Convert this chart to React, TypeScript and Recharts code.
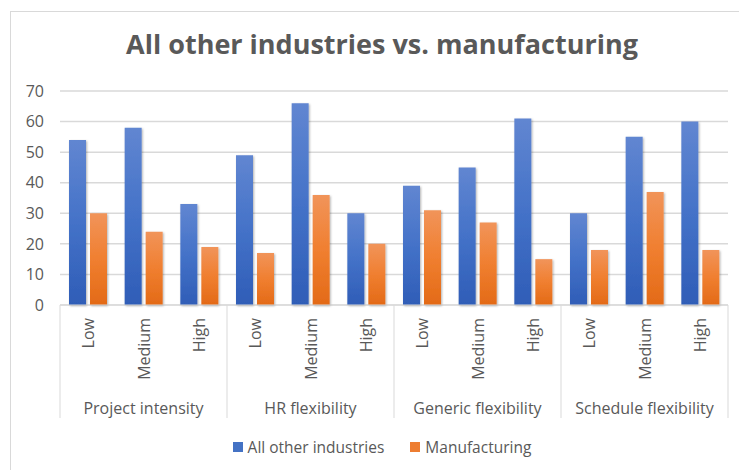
import React from 'react';
import { BarChart, Bar, XAxis, YAxis, CartesianGrid } from 'recharts';

const groups = ['Project intensity', 'HR flexibility', 'Generic flexibility', 'Schedule flexibility'];
const levels = ['Low', 'Medium', 'High'];
const allOther = [54, 58, 33, 49, 66, 30, 39, 45, 61, 30, 55, 60];
const manufacturing = [30, 24, 19, 17, 36, 20, 31, 27, 15, 18, 37, 18];
const yTicks = [0, 10, 20, 30, 40, 50, 60, 70];

const data = allOther.map((v, i) => ({
  key: `${groups[Math.floor(i / 3)]}|${levels[i % 3]}`,
  level: levels[i % 3],
  group: groups[Math.floor(i / 3)],
  allOther: v,
  manufacturing: manufacturing[i],
}));

const W = 739;
const H = 470;
const M = { top: 91, right: 11, left: 0, bottom: 0 };
const Y_W = 60;
const X_H = 165;
const PLOT_W = W - M.left - M.right - Y_W;
const BAND = PLOT_W / data.length;
const FONT = '"Open Sans", sans-serif';
const TXT = '#595959';
const GRID = '#d9d9d9';

const CategoryTick = (props: any) => {
  const { x, y, payload } = props;
  const idx = payload.index;
  const row = data[idx];
  const base = y - 8;
  const els: any[] = [];
  els.push(
    <text
      key="lv"
      x={x}
      y={base + 13}
      transform={`rotate(-90, ${x}, ${base + 13})`}
      textAnchor="end"
      dominantBaseline="central"
      fill={TXT}
      fontSize={16}
      fontFamily={FONT}
    >
      {row.level}
    </text>
  );
  if (idx % 3 === 0) {
    els.push(<line key="sl" x1={x - BAND / 2} x2={x - BAND / 2} y1={base} y2={base + 113} stroke={GRID} strokeWidth={1} />);
  }
  if (idx === data.length - 1) {
    els.push(<line key="sr" x1={x + BAND / 2} x2={x + BAND / 2} y1={base} y2={base + 113} stroke={GRID} strokeWidth={1} />);
  }
  if (idx % 3 === 1) {
    els.push(
      <text key="gl" x={x} y={base + 103} textAnchor="middle" dominantBaseline="central" fill={TXT} fontSize={16} fontFamily={FONT}>
        {row.group}
      </text>
    );
  }
  return <g>{els}</g>;
};

export default function App() {
  return (
    <div style={{ position: 'absolute', left: 0, top: 0, width: W, height: H, overflow: 'hidden', background: '#fff' }}>
      <div style={{ position: 'absolute', left: 10, top: 11, width: W + 20, height: H + 20, border: `1px solid ${GRID}` }} />
      <div
        style={{
          position: 'absolute',
          left: 0,
          top: 26,
          width: 764,
          textAlign: 'center',
          fontFamily: FONT,
          fontSize: 27,
          fontWeight: 700,
          color: TXT,
          lineHeight: '36px',
          whiteSpace: 'nowrap',
        }}
      >
        All other industries vs. manufacturing
      </div>
      <div style={{ position: 'absolute', left: 0, top: 0 }}>
        <BarChart width={W} height={H} data={data} margin={M} barSize={17} barGap={4}>
          <defs>
            <linearGradient id="gBlue" x1="0" y1="0" x2="0" y2="1">
              <stop offset="0%" stopColor="#6186d1" />
              <stop offset="50%" stopColor="#4472c8" />
              <stop offset="100%" stopColor="#2f5db7" />
            </linearGradient>
            <linearGradient id="gOrange" x1="0" y1="0" x2="0" y2="1">
              <stop offset="0%" stopColor="#f1945a" />
              <stop offset="50%" stopColor="#f07f30" />
              <stop offset="100%" stopColor="#e36a17" />
            </linearGradient>
            <filter id="shadow" x="-30%" y="-10%" width="160%" height="120%">
              <feDropShadow dx="1" dy="1" stdDeviation="1" floodColor="#000" floodOpacity="0.3" />
            </filter>
          </defs>
          <CartesianGrid vertical={false} stroke={GRID} strokeWidth={1.5} />
          <XAxis
            dataKey="key"
            interval={0}
            height={X_H}
            axisLine={{ stroke: GRID }}
            tickLine={false}
            tick={<CategoryTick />}
          />
          <YAxis
            domain={[0, 70]}
            ticks={yTicks}
            width={Y_W}
            axisLine={false}
            tickLine={false}
            tickSize={6}
            tickMargin={10}
            tick={{ fill: TXT, fontSize: 16, fontFamily: FONT }}
            interval={0}
          />
          <Bar dataKey="allOther" fill="url(#gBlue)" filter="url(#shadow)" isAnimationActive={false} />
          <Bar dataKey="manufacturing" fill="url(#gOrange)" filter="url(#shadow)" isAnimationActive={false} />
        </BarChart>
      </div>
      <div
        style={{
          position: 'absolute',
          left: 0,
          top: 436,
          width: 764,
          display: 'flex',
          justifyContent: 'center',
          alignItems: 'center',
          fontFamily: FONT,
          fontSize: 15.5,
          color: TXT,
          lineHeight: '22px',
        }}
      >
        <span style={{ display: 'inline-block', width: 10, height: 10, background: '#4472c4', marginRight: 5 }} />
        <span style={{ marginRight: 26 }}>All other industries</span>
        <span style={{ display: 'inline-block', width: 10, height: 10, background: '#ed7d31', marginRight: 5 }} />
        <span>Manufacturing</span>
      </div>
    </div>
  );
}
